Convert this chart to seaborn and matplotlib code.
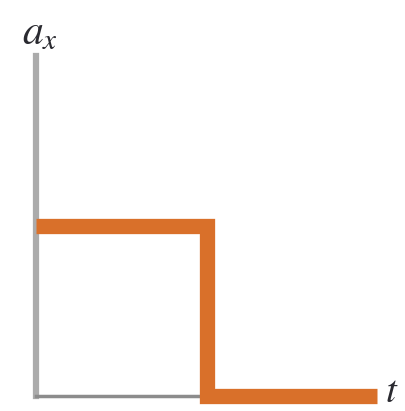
import matplotlib
matplotlib.use("Agg")
import matplotlib.pyplot as plt
import seaborn as sns

# step graph of acceleration vs time
t = [0, 1, 1, 2]
a_x = [1, 1, 0, 0]

sns.set_style("white")
plt.rcParams["mathtext.fontset"] = "stix"

W, H = 405, 411
fig = plt.figure(figsize=(W / 100, H / 100), dpi=100)
# axes placed in pixel terms: x 36..377, y 56..396 (from top)
ax = fig.add_axes([36 / W, (H - 396) / H, (377 - 36) / W, (396 - 56) / H])

sns.lineplot(x=t, y=a_x, sort=False, estimator=None, errorbar=None, ax=ax,
             color="#d9702a", linewidth=11, zorder=5,
             solid_joinstyle="miter", solid_capstyle="butt", clip_on=False)

ax.set_xlim(0, 2)
ax.set_ylim(0, 2)
ax.set_xticks([])
ax.set_yticks([])
ax.set_xlabel("")
ax.set_ylabel("")
for side in ["top", "right"]:
    ax.spines[side].set_visible(False)
ax.spines["left"].set_color("#ababab")
ax.spines["left"].set_linewidth(4.5)
ax.spines["bottom"].set_color("#8c8c8c")
ax.spines["bottom"].set_linewidth(2.5)
ax.spines["bottom"].set_bounds(0, 1)
ax.patch.set_alpha(0)

fig.text(22 / W, 1 - 44 / H, r"$a_x$", fontsize=30, color="#2a2a30")
fig.text(385 / W, 1 - 402 / H, r"$t$", fontsize=28, color="#2a2a30")

fig.savefig("out.png", dpi=100)
